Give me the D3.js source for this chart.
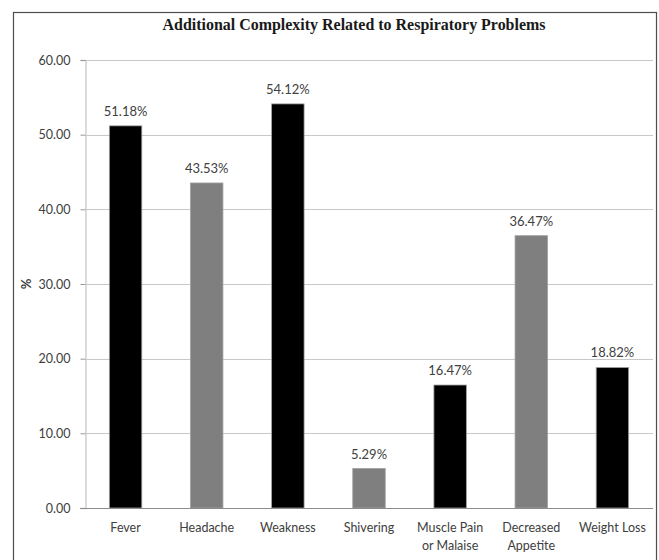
<!DOCTYPE html>
<html>
<head>
<meta charset="utf-8">
<script src="https://cdn.jsdelivr.net/npm/d3@7"></script>
<style>
  html, body { margin: 0; padding: 0; background: #fff; }
  svg { display: block; }
</style>
</head>
<body>
<script>
// Symptoms and their share of patients (%)
const categories = ["Fever", "Headache", "Weakness", "Shivering", "Muscle Pain\nor Malaise", "Decreased\nAppetite", "Weight Loss"];
const values = [51.18, 43.53, 54.12, 5.29, 16.47, 36.47, 18.82];
const barColors = ["#000000", "#7f7f7f", "#000000", "#7f7f7f", "#000000", "#7f7f7f", "#000000"];
const yTicks = [0, 10, 20, 30, 40, 50, 60];
const title = "Additional Complexity Related to Respiratory Problems";

const W = 659, H = 560;
const margin = { left: 85, right: 6, top: 60, bottom: 52 };
const labelFont = "Lato, 'Open Sans', sans-serif";

const svg = d3.select("body").append("svg").attr("width", W).attr("height", H);

// Outer frame
svg.append("rect")
  .attr("x", 13.5).attr("y", 12.5)
  .attr("width", 643).attr("height", 560)
  .attr("fill", "none").attr("stroke", "#4d4d4d").attr("stroke-width", 1.2);

const x = d3.scaleBand()
  .domain(categories)
  .range([margin.left, W - margin.right])
  .paddingInner(0.6).paddingOuter(0.3);

const y = d3.scaleLinear().domain([0, 60]).range([H - margin.bottom, margin.top]);

// Gridlines
svg.append("g")
  .selectAll("line")
  .data(yTicks.filter(d => d > 0))
  .join("line")
  .attr("x1", margin.left).attr("x2", W - margin.right)
  .attr("y1", d => Math.round(y(d)) + 0.5).attr("y2", d => Math.round(y(d)) + 0.5)
  .attr("stroke", "#c8c8c8").attr("stroke-width", 1);

// Y axis
const yAxis = svg.append("g")
  .attr("transform", `translate(${margin.left + 0.5},0)`)
  .call(d3.axisLeft(y).tickValues(yTicks).tickFormat(d3.format(".2f")).tickSize(5).tickPadding(10));
yAxis.select(".domain").attr("stroke", "#d0d0d0").attr("stroke-width", 1.5);
yAxis.selectAll(".tick line").attr("stroke", "#9a9a9a");
yAxis.selectAll(".tick text")
  .attr("fill", "#404040").attr("font-family", labelFont).attr("font-size", 12.5);

// Bars
svg.append("g")
  .selectAll("rect")
  .data(values)
  .join("rect")
  .attr("x", (d, i) => x(categories[i]))
  .attr("y", d => y(d))
  .attr("width", x.bandwidth())
  .attr("height", d => y(0) - y(d))
  .attr("fill", (d, i) => barColors[i])
  .attr("stroke", "#a0a0a0").attr("stroke-width", 0.8);

// Baseline
svg.append("line")
  .attr("x1", margin.left - 5).attr("x2", W - margin.right)
  .attr("y1", Math.round(y(0)) + 0.5).attr("y2", Math.round(y(0)) + 0.5)
  .attr("stroke", "#8c8c8c").attr("stroke-width", 1);

// Value labels
svg.append("g")
  .selectAll("text")
  .data(values)
  .join("text")
  .attr("x", (d, i) => x(categories[i]) + x.bandwidth() / 2)
  .attr("y", d => y(d) - 10)
  .attr("text-anchor", "middle")
  .attr("fill", "#404040").attr("font-family", labelFont).attr("font-size", 13)
  .text(d => d.toFixed(2) + "%");

// Category labels (may wrap onto two lines)
const xl = svg.append("g")
  .selectAll("text")
  .data(categories)
  .join("text")
  .attr("x", d => x(d) + x.bandwidth() / 2)
  .attr("y", y(0) + 24)
  .attr("text-anchor", "middle")
  .attr("fill", "#404040").attr("font-family", labelFont).attr("font-size", 12.5);
xl.selectAll("tspan")
  .data(d => d.split("\n").map(s => ({ s, x: x(d) + x.bandwidth() / 2 })))
  .join("tspan")
  .attr("x", d => d.x)
  .attr("dy", (d, i) => i === 0 ? 0 : 18)
  .text(d => d.s);

// Y axis title
svg.append("text")
  .attr("transform", `translate(31,${(y(0) + y(60)) / 2}) rotate(-90)`)
  .attr("text-anchor", "middle")
  .attr("fill", "#404040").attr("font-family", labelFont).attr("font-size", 13).attr("font-weight", "bold")
  .text("%");

// Chart title
svg.append("text")
  .attr("x", 354).attr("y", 30)
  .attr("text-anchor", "middle")
  .attr("fill", "#1a1a1a").attr("font-family", "'Liberation Serif', serif")
  .attr("font-size", 15.8).attr("font-weight", "bold")
  .attr("textLength", 383).attr("lengthAdjust", "spacingAndGlyphs")
  .text(title);
</script>
</body>
</html>
